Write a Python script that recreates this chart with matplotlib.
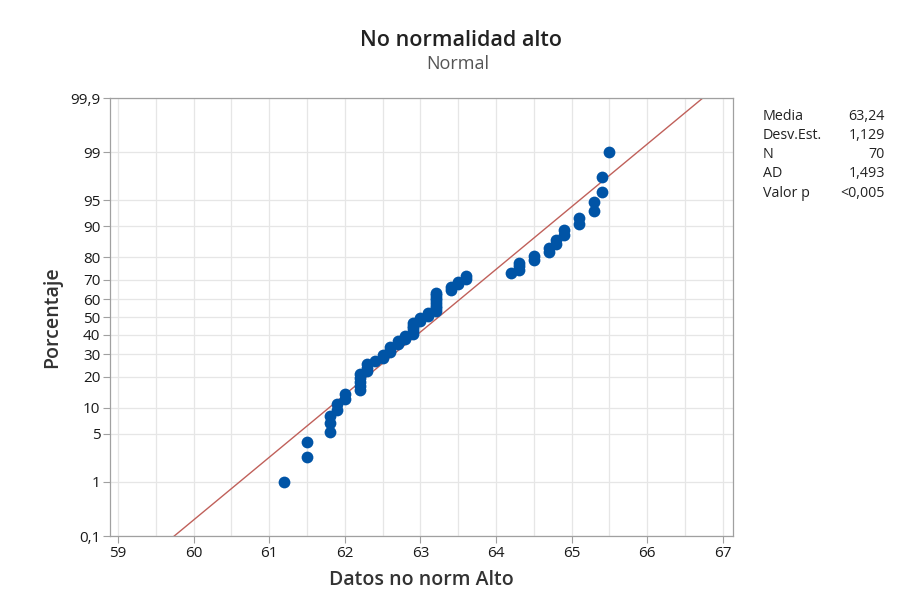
import numpy as np
import matplotlib
matplotlib.use("Agg")
import matplotlib.pyplot as plt
from statistics import NormalDist

plt.rcParams['font.family'] = ['Open Sans', 'DejaVu Sans']

valores = [61.2, 61.5, 61.5, 61.8, 61.8, 61.8, 61.9, 61.9, 62.0, 62.0,
           62.2, 62.2, 62.2, 62.2, 62.2, 62.3, 62.3, 62.3, 62.4, 62.5,
           62.5, 62.6, 62.6, 62.6, 62.7, 62.7, 62.8, 62.8, 62.9, 62.9,
           62.9, 62.9, 62.9, 63.0, 63.0, 63.1, 63.1, 63.2, 63.2, 63.2,
           63.2, 63.2, 63.2, 63.2, 63.2, 63.4, 63.4, 63.5, 63.5, 63.6,
           63.6, 64.2, 64.3, 64.3, 64.3, 64.5, 64.5, 64.7, 64.7, 64.8,
           64.8, 64.9, 64.9, 65.1, 65.1, 65.3, 65.3, 65.4, 65.4, 65.5]

y_ticks = [0.1, 1, 5, 10, 20, 30, 40, 50, 60, 70, 80, 90, 95, 99, 99.9]
x_ticks = [59, 60, 61, 62, 63, 64, 65, 66, 67]

stat_names = ['Media', 'Desv.Est.', 'N', 'AD', 'Valor p']
stat_vals = ['63,24', '1,129', '70', '1,493', '<0,005']

nd = NormalDist()
def z(p):
    # percent -> normal quantile
    return nd.inv_cdf(p / 100.0)

x = np.array(valores)
n = len(x)
ranks = np.arange(1, n + 1)
pct = (ranks - 0.3) / (n + 0.4) * 100
zy = [z(p) for p in pct]

mu = x.mean()
sd = x.std(ddof=1)

fig = plt.figure(figsize=(9.02, 6.06), dpi=100)
ax = fig.add_axes([110 / 902, 1 - 536 / 606, 623 / 902, 438 / 606])

# grid
for gx in np.arange(58.5, 67.6, 0.5):
    ax.axvline(gx, color='#e6e6e6', lw=0.9, zorder=0)
for t in y_ticks:
    ax.axhline(z(t), color='#e6e6e6', lw=0.9, zorder=0)

# fitted line
zl = np.array([-3.3, 3.3])
ax.plot(mu + sd * zl, zl, color='#c0605a', lw=1.0, zorder=2)

ax.scatter(x, zy, s=72, color='#0054a6', zorder=3, linewidths=0)

ax.set_xlim(59 - 8 / 75.6, 59 + 615 / 75.6)
ax.set_ylim(z(0.1), z(99.9))
ax.set_yticks([z(t) for t in y_ticks])
ax.set_yticklabels([str(t).replace('.', ',') for t in y_ticks])
ax.set_xticks(x_ticks)

for s in ax.spines.values():
    s.set_color('#a0a0a0')
    s.set_linewidth(0.9)
ax.tick_params(length=5, color='#a0a0a0', labelsize=11, labelcolor='#1a1a1a', pad=2)

ax.set_xlabel('Datos no norm Alto', fontsize=14, color='#333333', fontweight='semibold', labelpad=7)
ax.set_ylabel('Porcentaje', fontsize=14, color='#333333', fontweight='semibold', labelpad=6)

fig.text(461 / 902, 1 - 40 / 606, 'No normalidad alto', ha='center', va='center',
         fontsize=15.5, color='#222222', fontweight='semibold')
fig.text(458 / 902, 1 - 64 / 606, 'Normal', ha='center', va='center',
         fontsize=13, color='#555555')

for i, (nm, vl) in enumerate(zip(stat_names, stat_vals)):
    yy = 1 - (116 + i * 19.3) / 606
    fig.text(763 / 902, yy, nm, ha='left', va='center', fontsize=10.3, color='#222222')
    fig.text(885 / 902, yy, vl, ha='right', va='center', fontsize=10.3, color='#222222')

fig.savefig('out.png', dpi=100, facecolor='white')
